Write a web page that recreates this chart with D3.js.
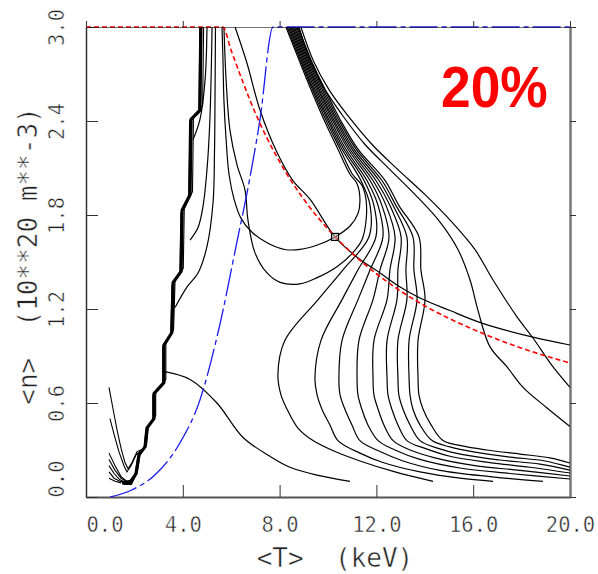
<!DOCTYPE html>
<html>
<head>
<meta charset="utf-8">
<script src="https://cdn.jsdelivr.net/npm/d3@7"></script>
<style>
  body { margin: 0; background: #fff; }
  svg { display: block; }
</style>
</head>
<body>
<div id="chart"></div>
<script>
/* global d3 */

// Canvas
const width = 598,
  height = 574,
  plotLeft = 86,
  plotRight = 570,
  plotTop = 27,
  plotBottom = 497

// Axes
const xTicks = [0, 4, 8, 12, 16, 20]
const yTicks = [0, 0.6, 1.2, 1.8, 2.4, 3.0]
const xTitle = '<T>  (keV)'
const yTitle = '<n>  (10**20 m**-3)'
const bigLabel = '20%'

// Curves, [T keV, n 1e20 m^-3]
// ignition staircase (a bundle of near-identical contours)
const stairA = [[1.49,0.09],[1.82,0.09],[2.07,0.15],[2.19,0.27],[2.44,0.32],[2.52,0.44],[2.81,0.50],[2.81,0.66],[3.22,0.73],[3.22,0.97],[3.55,1.05],[3.60,1.37],[3.93,1.44],[3.97,1.83],[4.30,1.93],[4.34,2.41],[4.71,2.47],[4.75,3.0]]
const stairB = [[1.55,0.08],[1.88,0.08],[2.12,0.16],[2.24,0.28],[2.50,0.33],[2.58,0.45],[2.88,0.52],[2.88,0.67],[3.30,0.75],[3.30,0.98],[3.62,1.07],[3.68,1.38],[4.02,1.46],[4.06,1.84],[4.40,1.95],[4.44,2.42],[4.82,2.50],[4.86,3.0]]
const stairC = [[1.45,0.10],[1.78,0.10],[2.02,0.14],[2.15,0.26],[2.40,0.31],[2.48,0.43],[2.76,0.49],[2.76,0.65],[3.17,0.72],[3.17,0.96],[3.50,1.04],[3.55,1.35],[3.88,1.42],[3.92,1.81],[4.24,1.92],[4.28,2.40],[4.66,2.45],[4.70,3.0]]

// low-T arms
const armA = [[0.95,0.70],[1.12,0.56],[1.28,0.43],[1.45,0.31],[1.61,0.22],[1.74,0.18],[1.90,0.22],[2.11,0.29],[2.40,0.31]]
const armB = [[0.99,0.50],[1.16,0.40],[1.36,0.29],[1.57,0.20],[1.69,0.16],[1.86,0.20],[2.07,0.27],[2.40,0.31]]
const armC = [[0.95,0.28],[1.20,0.20],[1.45,0.13],[1.69,0.10],[1.94,0.11],[2.11,0.15]]
const armD = [[0.95,0.24],[1.20,0.17],[1.45,0.12],[1.69,0.10],[1.98,0.11]]
const armE = [[0.95,0.20],[1.16,0.15],[1.40,0.11],[1.69,0.09]]
const armF = [[0.95,0.16],[1.16,0.12],[1.40,0.10],[1.65,0.09]]
const armG = [[0.95,0.12],[1.20,0.10],[1.45,0.09]]

// contours leaving the staircase upwards
const riseA = [[3.68,1.21],[4.17,1.34],[4.63,1.43],[5.0,1.60],[5.25,1.88],[5.31,2.20],[5.33,2.53],[5.35,3.0]]
const riseB = [[4.30,1.64],[4.63,1.72],[4.83,1.85],[5.0,2.09],[5.12,2.41],[5.21,3.0]]
const riseC = [[4.42,2.28],[4.71,2.41],[4.92,2.66],[5.0,3.0]]
const hump = [[3.26,0.80],[4.30,0.75],[5.41,0.60],[6.49,0.38],[7.60,0.26],[8.43,0.19],[9.55,0.14],[10.91,0.10]]

// contour hugging the beta limit
const ridge = [[6.16,3.0],[6.65,2.77],[7.19,2.47],[7.89,2.20],[8.55,2.02],[9.26,1.90],[10.29,1.66],[11.20,1.53],[12.15,1.43],[12.98,1.34],[13.80,1.27],[15.04,1.19],[16.36,1.11],[18.47,1.02],[20.0,0.97]]

// closed-from-the-top loops
const loopA = [[5.62,3.0],[5.66,2.79],[5.70,2.53],[5.79,2.28],[5.91,2.06],[6.12,1.90],[6.40,1.78],[6.86,1.69],[7.52,1.62],[8.22,1.58],[8.84,1.58],[9.59,1.61],[10.29,1.66],[10.91,1.73],[11.24,1.81],[11.32,1.90],[11.20,2.00],[10.91,2.06],[10.41,2.22],[9.83,2.41],[9.30,2.60],[8.80,2.79],[8.26,3.0]]
const loopB = [[5.70,3.0],[5.79,2.66],[5.95,2.34],[6.24,2.12],[6.57,1.96],[6.69,1.77],[6.98,1.56],[7.48,1.43],[8.02,1.37],[8.84,1.36],[9.55,1.40],[10.37,1.47],[11.03,1.56],[11.40,1.64],[11.57,1.76],[11.57,1.90],[11.40,1.99],[11.01,2.06],[10.50,2.22],[9.90,2.41],[9.36,2.60],[8.85,2.79],[8.31,3.0]]

// right-hand family, from their low-n end round the nose into the bundle
const auxK0 = [[14.34,0.10],[12.77,0.16],[11.32,0.23],[10.29,0.29],[9.38,0.36],[8.76,0.44],[8.31,0.56],[8.06,0.65],[7.93,0.78],[8.22,1.00],[9.59,1.26],[10.62,1.45],[11.69,1.66],[11.74,1.86],[11.36,2.02],[10.58,2.22],[9.97,2.41],[9.41,2.60],[8.90,2.79],[8.36,3.0]]
const auxK1 = [[16.82,0.10],[15.45,0.12],[13.80,0.16],[12.27,0.22],[11.32,0.28],[10.41,0.36],[10.08,0.46],[9.75,0.56],[9.55,0.65],[9.46,0.76],[9.71,1.00],[10.58,1.26],[11.24,1.45],[11.98,1.66],[11.90,1.86],[11.49,2.02],[10.66,2.22],[10.03,2.41],[9.47,2.60],[8.95,2.79],[8.41,3.0]]
const auxK2 = [[18.88,0.10],[16.69,0.13],[14.63,0.17],[13.10,0.23],[12.15,0.29],[11.32,0.36],[10.99,0.46],[10.70,0.56],[10.50,0.65],[10.45,0.76],[10.58,1.00],[11.24,1.26],[11.74,1.45],[12.27,1.66],[12.07,1.86],[11.61,2.02],[10.74,2.22],[10.10,2.41],[9.53,2.60],[9.00,2.79],[8.46,3.0]]
const auxK3 = [[20.0,0.115],[17.52,0.15],[15.45,0.185],[13.80,0.24],[12.77,0.30],[12.07,0.36],[11.65,0.46],[11.40,0.56],[11.24,0.65],[11.20,0.76],[11.28,1.00],[11.86,1.26],[12.15,1.45],[12.52,1.66],[12.23,1.86],[11.74,2.02],[10.83,2.22],[10.17,2.41],[9.59,2.60],[9.05,2.79],[8.51,3.0]]
const auxK4 = [[20.0,0.134],[17.93,0.17],[16.07,0.20],[14.42,0.25],[13.39,0.30],[12.69,0.36],[12.31,0.46],[12.07,0.56],[11.90,0.65],[11.86,0.76],[11.90,1.00],[12.44,1.26],[12.56,1.45],[12.77,1.66],[12.40,1.86],[11.86,2.02],[10.91,2.22],[10.23,2.41],[9.64,2.60],[9.10,2.79],[8.56,3.0]]
const auxK5 = [[20.0,0.153],[18.35,0.19],[16.69,0.22],[15.04,0.26],[14.01,0.31],[13.26,0.36],[12.89,0.46],[12.64,0.56],[12.48,0.65],[12.44,0.76],[12.44,1.00],[12.85,1.26],[12.89,1.45],[13.02,1.66],[12.56,1.86],[11.98,2.02],[10.99,2.22],[10.30,2.41],[9.70,2.60],[9.15,2.79],[8.61,3.0]]
const auxK6 = [[20.0,0.172],[18.76,0.21],[17.11,0.236],[15.58,0.27],[14.55,0.31],[13.80,0.36],[13.39,0.46],[13.10,0.56],[12.93,0.65],[12.89,0.76],[12.89,1.00],[13.26,1.26],[13.22,1.45],[13.26,1.66],[12.69,1.86],[12.11,2.02],[11.07,2.22],[10.36,2.41],[9.76,2.60],[9.20,2.79],[8.66,3.0]]
const auxK7 = [[20.0,0.19],[18.97,0.23],[17.52,0.255],[16.07,0.287],[15.04,0.32],[14.30,0.36],[13.80,0.46],[13.51,0.56],[13.39,0.65],[13.35,0.76],[13.35,1.00],[13.68,1.26],[13.55,1.45],[13.51,1.66],[12.81,1.86],[12.23,2.02],[11.16,2.22],[10.43,2.41],[9.82,2.60],[9.25,2.79],[8.71,3.0]]
const auxK8 = [[20.0,0.217],[19.17,0.25],[17.93,0.274],[16.57,0.30],[15.54,0.326],[14.75,0.36],[14.26,0.46],[13.93,0.56],[13.76,0.65],[13.72,0.76],[13.72,1.00],[14.01,1.26],[13.84,1.45],[13.76,1.66],[12.93,1.86],[12.36,2.02],[11.24,2.22],[10.50,2.41],[9.88,2.60],[9.30,2.79],[8.76,3.0]]

// two outermost contours peeling off the bundle
const outerA = [[8.80,3.0],[9.26,2.79],[9.88,2.60],[10.58,2.44],[11.53,2.25],[12.56,2.09],[13.60,1.93],[14.63,1.755],[15.37,1.58],[15.87,1.385],[16.20,1.19],[16.69,0.96],[17.40,0.83],[18.06,0.70],[19.04,0.57],[20.0,0.45]]
const outerB = [[8.88,3.0],[9.38,2.79],[10.04,2.60],[10.79,2.44],[11.82,2.25],[12.89,2.09],[14.01,1.93],[15.12,1.755],[16.07,1.58],[16.82,1.385],[17.81,1.15],[18.47,1.015],[19.30,0.83],[20.0,0.70]]

// red dashed limit and blue dash-dot line
const betaLimit = [[0,3.0],[5.65,3.0],[6,2.85],[7,2.45],[8,2.14],[9,1.9],[10,1.71],[11,1.555],[12,1.425],[13,1.315],[14,1.22],[16,1.07],[18,0.95],[20,0.855]]
const ohmicLine = [[1.0,0],[1.82,0.04],[2.93,0.153],[3.88,0.345],[4.71,0.62],[5.41,1.02],[5.66,1.19],[6.03,1.47],[6.28,1.66],[6.69,1.97],[7.19,2.41],[7.73,3.0],[20,3.0]]

// operating point
const operatingPoint = [10.29, 1.66]

const thinLines = [stairB, stairC, armA, armB, armC, armD, armE, armF, armG]
const smoothLines = [riseA, riseB, riseC, hump, ridge, loopA, loopB,
  auxK0, auxK1, auxK2, auxK3, auxK4, auxK5, auxK6, auxK7, auxK8, outerA, outerB]

// Drawing area
let svg = d3.select('#chart')
  .append('svg')
  .attr('width', width)
  .attr('height', height)

let xScale = d3.scaleLinear().domain([0, 20]).range([plotLeft, plotRight])
let yScale = d3.scaleLinear().domain([0, 3]).range([plotBottom, plotTop])

const fmt = d3.format('.1f')
const monoFont = 'DejaVu Sans Mono'

// bottom axis, ticks inside
let gx = svg.append('g')
  .attr('transform', `translate(0,${plotBottom})`)
  .call(d3.axisBottom(xScale).tickValues(xTicks).tickFormat(fmt)
    .tickSizeInner(-12).tickSizeOuter(0).tickPadding(20))
gx.select('.domain').attr('stroke', '#555').attr('stroke-width', 2)
gx.selectAll('.tick text')
  .attr('text-anchor', d => d === 0 ? 'start' : 'middle')

// left axis, ticks inside, rotated labels
let gy = svg.append('g')
  .attr('transform', `translate(${plotLeft},0)`)
  .call(d3.axisLeft(yScale).tickValues(yTicks).tickFormat(fmt)
    .tickSizeInner(-12).tickSizeOuter(0))
gy.select('.domain').attr('stroke', '#333').attr('stroke-width', 1.5)
gy.selectAll('.tick text')
  .attr('transform', 'rotate(-90)')
  .attr('x', 0)
  .attr('y', -22)
  .attr('dy', 0)
  .attr('text-anchor', d => d === 0 ? 'start' : 'middle')

let gr = svg.append('g')
  .attr('transform', `translate(${plotRight},0)`)
  .call(d3.axisRight(yScale).tickValues(yTicks).tickFormat('')
    .tickSizeInner(6).tickSizeOuter(0))
gr.select('.domain').attr('stroke', '#777').attr('stroke-width', 2.5)

svg.selectAll('.tick line').attr('stroke', '#333')
svg.selectAll('g')
  .attr('font-family', monoFont)
  .attr('font-size', 20.5)
svg.selectAll('.tick text')
  .attr('fill', '#222')
  .attr('stroke', '#fff')
  .attr('stroke-width', 0.5)

// axis titles
svg.append('text')
  .attr('x', 335)
  .attr('y', 567)
  .attr('text-anchor', 'middle')
  .attr('font-family', monoFont)
  .attr('font-size', 26)
  .attr('fill', '#222')
  .attr('stroke', '#fff')
  .attr('stroke-width', 0.5)
  .style('white-space', 'pre')
  .text(xTitle)

svg.append('text')
  .attr('transform', 'translate(37,256) rotate(-90)')
  .attr('text-anchor', 'middle')
  .attr('font-family', monoFont)
  .attr('font-size', 26)
  .attr('fill', '#222')
  .attr('stroke', '#fff')
  .attr('stroke-width', 0.5)
  .style('white-space', 'pre')
  .text(yTitle)

// plot area
svg.append('clipPath')
  .attr('id', 'plot-clip')
  .append('rect')
  .attr('x', plotLeft)
  .attr('y', plotTop - 1.5)
  .attr('width', plotRight - plotLeft)
  .attr('height', plotBottom - plotTop + 1.5)

let plot = svg.append('g').attr('clip-path', 'url(#plot-clip)')

let straight = d3.line()
  .x(d => xScale(d[0]))
  .y(d => yScale(d[1]))

let smooth = d3.line()
  .curve(d3.curveCatmullRom.alpha(0.5))
  .x(d => xScale(d[0]))
  .y(d => yScale(d[1]))

let monotone = d3.line()
  .curve(d3.curveMonotoneX)
  .x(d => xScale(d[0]))
  .y(d => yScale(d[1]))

plot.append('path')
  .attr('d', straight(stairA))
  .attr('fill', 'none')
  .attr('stroke', '#000')
  .attr('stroke-width', 3.2)
  .attr('stroke-linejoin', 'round')

plot.selectAll('path.thin')
  .data(thinLines)
  .enter()
  .append('path')
  .attr('class', 'thin')
  .attr('d', straight)
  .attr('fill', 'none')
  .attr('stroke', '#000')
  .attr('stroke-width', 1.1)

plot.selectAll('path.contour')
  .data(smoothLines)
  .enter()
  .append('path')
  .attr('class', 'contour')
  .attr('d', smooth)
  .attr('fill', 'none')
  .attr('stroke', '#000')
  .attr('stroke-width', 1.2)

plot.append('path')
  .attr('d', monotone(ohmicLine))
  .attr('fill', 'none')
  .attr('stroke', '#1a1aee')
  .attr('stroke-width', 1.3)
  .attr('stroke-dasharray', '28,4,5,4')

plot.append('path')
  .attr('d', monotone(betaLimit))
  .attr('fill', 'none')
  .attr('stroke', '#ff0000')
  .attr('stroke-width', 1.6)
  .attr('stroke-dasharray', '5,3')

plot.append('rect')
  .attr('x', xScale(operatingPoint[0]) - 3.5)
  .attr('y', yScale(operatingPoint[1]) - 3.5)
  .attr('width', 7)
  .attr('height', 7)
  .attr('fill', '#bbb')
  .attr('fill-opacity', 0.5)
  .attr('stroke', '#000')
  .attr('stroke-width', 1.2)

// top axis drawn over the curves running along the upper edge
let gt = svg.append('g')
  .attr('transform', `translate(0,${plotTop})`)
  .call(d3.axisTop(xScale).tickValues(xTicks).tickFormat('')
    .tickSizeInner(6).tickSizeOuter(0))
gt.select('.domain').attr('stroke', '#000').attr('stroke-width', 1.2).attr('stroke-opacity', 0.55)
gt.selectAll('.tick line').attr('stroke', '#333')

// big red label
svg.append('text')
  .attr('transform', 'translate(441,107) scale(0.92,1)')
  .attr('font-family', 'Liberation Sans, Arial, sans-serif')
  .attr('font-weight', 'bold')
  .attr('font-size', 58)
  .attr('fill', '#ff0000')
  .text(bigLabel)
</script>
</body>
</html>
